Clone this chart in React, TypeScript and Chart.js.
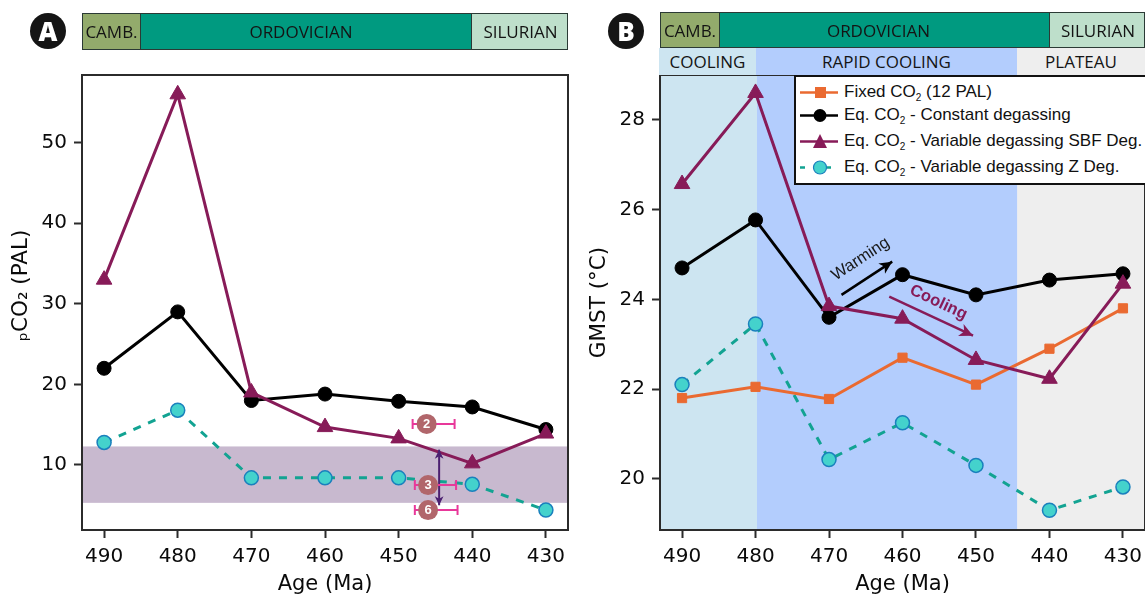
import React, { useEffect, useRef } from "react";
import { Chart, registerables } from "chart.js";

Chart.register(...registerables);

const ages = [490, 480, 470, 460, 450, 440, 430];

const co2Constant = [22, 29, 18, 18.8, 17.9, 17.2, 14.4];
const co2Sbf = [33, 56, 19, 14.7, 13.3, 10.2, 13.9];
const co2Z = [12.8, 16.8, 8.4, 8.4, 8.4, 7.6, 4.4];
const co2ShadeRange = [5.3, 12.3];
const proxyLabels = ["2", "3", "6"];
const proxyCenterAge = [446.2, 446, 446];
const proxyCo2 = [15.1, 7.5, 4.4];
const proxyAgeLow = [442.4, 442.2, 442];
const proxyAgeHigh = [448.1, 447.8, 447.8];
const rangeArrowAge = 444.5;
const rangeArrowCo2 = [11.9, 5.0];

const gmstFixed = [21.8, 22.05, 21.78, 22.7, 22.1, 22.9, 23.8];
const gmstConstant = [24.7, 25.77, 23.6, 24.55, 24.1, 24.43, 24.57];
const gmstSbf = [26.57, 28.6, 23.85, 23.57, 22.65, 22.23, 24.35];
const gmstZ = [22.1, 23.45, 20.43, 21.25, 20.3, 19.3, 19.82];
const bandEdges = [427, 444.4, 479.8, 493];
const bandColors = ["#eeeeee", "#b3cdfd", "#cde5f1"];
const warmingArrow = [468.3, 24.1, 461.4, 24.84];
const coolingArrow = [461.8, 24.06, 450.4, 23.19];
const warmingLabel = { text: "Warming", age: 465.7, gmst: 24.9 };
const coolingLabel = { text: "Cooling", age: 455.1, gmst: 23.93 };

const legendLabels = [
  ["Fixed CO", " (12 PAL)"],
  ["Eq. CO", " - Constant degassing"],
  ["Eq. CO", " - Variable degassing SBF Deg."],
  ["Eq. CO", " - Variable degassing Z Deg."],
];

const BLACK = "#000000";
const PURPLE = "#871b58";
const TEAL = "#12a392";
const CYAN = "#44d2cc";
const CYAN_EDGE = "#1a80bd";
const ORANGE = "#ea6a31";
const PINK = "#e8389a";
const ROSE = "#b1666b";
const DARKPURPLE = "#4b1f70";
const AXIS = "#2b2b2b";
const SANS = "'DejaVu Sans'";
const ARIAL = "'Liberation Sans'";
const HEAD = "'Open Sans'";

function series(values: number[], color: string, style: string, extra: any = {}) {
  return {
    data: ages.map((a, i) => ({ x: a, y: values[i] })),
    borderColor: color,
    backgroundColor: color,
    borderWidth: 3,
    pointStyle: style,
    pointRadius: style === "triangle" ? 9 : 7,
    pointBorderColor: color,
    pointBackgroundColor: color,
    pointBorderWidth: 1,
    tension: 0,
    clip: false,
    ...extra,
  };
}

function arrow(
  ctx: CanvasRenderingContext2D,
  x0: number,
  y0: number,
  x1: number,
  y1: number,
  color: string,
  width: number,
  head: number,
  both = false
) {
  const draw = (ax: number, ay: number, bx: number, by: number) => {
    const t = Math.atan2(by - ay, bx - ax);
    ctx.beginPath();
    ctx.moveTo(bx, by);
    ctx.lineTo(bx - head * Math.cos(t - 0.45), by - head * Math.sin(t - 0.45));
    ctx.lineTo(bx - head * 0.65 * Math.cos(t), by - head * 0.65 * Math.sin(t));
    ctx.lineTo(bx - head * Math.cos(t + 0.45), by - head * Math.sin(t + 0.45));
    ctx.closePath();
    ctx.fill();
  };
  ctx.save();
  ctx.strokeStyle = color;
  ctx.fillStyle = color;
  ctx.lineWidth = width;
  ctx.beginPath();
  ctx.moveTo(x0, y0);
  ctx.lineTo(x1, y1);
  ctx.stroke();
  draw(x0, y0, x1, y1);
  if (both) draw(x1, y1, x0, y0);
  ctx.restore();
}

const framePlugin = {
  id: "frame",
  afterDraw(chart: any) {
    const { ctx, chartArea: a } = chart;
    ctx.save();
    ctx.strokeStyle = AXIS;
    ctx.lineWidth = 2;
    ctx.strokeRect(a.left, a.top, a.right - a.left, a.bottom - a.top);
    ctx.restore();
  },
};

const shadePlugin = {
  id: "shade",
  beforeDatasetsDraw(chart: any) {
    const { ctx, chartArea: a, scales } = chart;
    const y0 = scales.y.getPixelForValue(co2ShadeRange[1]);
    const y1 = scales.y.getPixelForValue(co2ShadeRange[0]);
    ctx.save();
    ctx.fillStyle = "#c8b9cf";
    ctx.fillRect(a.left, y0, a.right - a.left, y1 - y0);
    ctx.restore();
  },
  afterDatasetsDraw(chart: any) {
    const { ctx, scales } = chart;
    const X = scales.x;
    const Y = scales.y;
    arrow(
      ctx,
      X.getPixelForValue(rangeArrowAge),
      Y.getPixelForValue(rangeArrowCo2[0]),
      X.getPixelForValue(rangeArrowAge),
      Y.getPixelForValue(rangeArrowCo2[1]),
      DARKPURPLE,
      2,
      10,
      true
    );
    proxyLabels.forEach((label, i) => {
      const y = Y.getPixelForValue(proxyCo2[i]);
      const xl = X.getPixelForValue(proxyAgeHigh[i]);
      const xr = X.getPixelForValue(proxyAgeLow[i]);
      const cx = X.getPixelForValue(proxyCenterAge[i]);
      ctx.save();
      ctx.strokeStyle = PINK;
      ctx.lineWidth = 2;
      ctx.beginPath();
      ctx.moveTo(xl, y);
      ctx.lineTo(xr, y);
      ctx.moveTo(xl, y - 5);
      ctx.lineTo(xl, y + 5);
      ctx.moveTo(xr, y - 5);
      ctx.lineTo(xr, y + 5);
      ctx.stroke();
      ctx.fillStyle = ROSE;
      ctx.beginPath();
      ctx.arc(cx, y, 10, 0, Math.PI * 2);
      ctx.fill();
      ctx.fillStyle = "#ffffff";
      ctx.font = `bold 13px ${ARIAL}`;
      ctx.textAlign = "center";
      ctx.textBaseline = "middle";
      ctx.fillText(label, cx, y + 0.5);
      ctx.restore();
    });
  },
};

const bandPlugin = {
  id: "bands",
  beforeDatasetsDraw(chart: any) {
    const { ctx, chartArea: a, scales } = chart;
    ctx.save();
    bandColors.forEach((c, i) => {
      const x0 = scales.x.getPixelForValue(bandEdges[i + 1]);
      const x1 = scales.x.getPixelForValue(bandEdges[i]);
      ctx.fillStyle = c;
      ctx.fillRect(x0, a.top, x1 - x0, a.bottom - a.top);
    });
    ctx.restore();
  },
  afterDatasetsDraw(chart: any) {
    const { ctx, scales } = chart;
    const X = scales.x;
    const Y = scales.y;
    arrow(
      ctx,
      X.getPixelForValue(warmingArrow[0]),
      Y.getPixelForValue(warmingArrow[1]),
      X.getPixelForValue(warmingArrow[2]),
      Y.getPixelForValue(warmingArrow[3]),
      BLACK,
      2.5,
      14
    );
    arrow(
      ctx,
      X.getPixelForValue(coolingArrow[0]),
      Y.getPixelForValue(coolingArrow[1]),
      X.getPixelForValue(coolingArrow[2]),
      Y.getPixelForValue(coolingArrow[3]),
      PURPLE,
      2.5,
      15
    );
    const put = (l: any, color: string, font: string, angle: number) => {
      ctx.save();
      ctx.translate(X.getPixelForValue(l.age), Y.getPixelForValue(l.gmst));
      ctx.rotate(angle);
      ctx.fillStyle = color;
      ctx.font = font;
      ctx.textAlign = "center";
      ctx.textBaseline = "middle";
      ctx.fillText(l.text, 0, 0);
      ctx.restore();
    };
    put(warmingLabel, "#1a1a1a", `16.5px ${ARIAL}`, -0.58);
    put(coolingLabel, PURPLE, `bold 16.5px ${ARIAL}`, 0.44);
  },
};

function axes(yMin: number, yMax: number, yStep: number, yTitle: string, leftWidth: number, titleTop: number) {
  const font = { family: SANS, size: 20, weight: "500" };
  return {
    x: {
      type: "linear",
      reverse: true,
      min: 427,
      max: 493,
      border: { color: AXIS, width: 2 },
      grid: { drawOnChartArea: false, drawTicks: true, tickLength: 8, color: AXIS, tickWidth: 2 },
      ticks: { stepSize: 10, includeBounds: false, color: "#0a0a0a", font, padding: 7, maxRotation: 0 },
      title: { display: true, text: "Age (Ma)", color: "#0a0a0a", font: { family: SANS, size: 21 }, padding: { top: 0, bottom: -3 } },
      afterFit(s: any) {
        s.height = 64;
        s.paddingLeft = 0;
        s.paddingRight = 0;
      },
    },
    y: {
      type: "linear",
      min: yMin,
      max: yMax,
      border: { color: AXIS, width: 2 },
      grid: { drawOnChartArea: false, drawTicks: true, tickLength: 8, color: AXIS, tickWidth: 2 },
      ticks: { stepSize: yStep, includeBounds: false, color: "#0a0a0a", font, padding: 7 },
      title: { display: true, text: yTitle, color: "#0a0a0a", font: { family: SANS, size: 21.5 }, padding: { top: titleTop, bottom: 0 } },
      afterFit(s: any) {
        s.width = leftWidth;
      },
    },
  };
}

function useChart(ref: React.RefObject<HTMLCanvasElement | null>, make: () => any) {
  useEffect(() => {
    const chart = new Chart(ref.current as HTMLCanvasElement, make());
    return () => chart.destroy();
  }, []);
}

const Head = ({ x, w, y, h, bg, label, dx = 0, border = true }: any) => (
  <div
    style={{
      position: "absolute",
      left: x,
      width: w,
      top: y,
      height: h,
      background: bg,
      boxSizing: "border-box",
      display: "flex",
      alignItems: "center",
      justifyContent: "center",
      fontFamily: HEAD,
      fontSize: 17,
      color: "#141414",
      whiteSpace: "nowrap",
      overflow: "hidden",
      border: border ? "1.5px solid #2b3a35" : "none",
    }}
  >
    <span style={{ position: "relative", left: dx }}>{label}</span>
  </div>
);

const Badge = ({ x, label }: any) => (
  <div
    style={{
      position: "absolute",
      left: x - 18,
      top: 13,
      width: 36,
      height: 36,
      borderRadius: 18,
      background: "#151515",
      color: "#fff",
      display: "flex",
      alignItems: "center",
      justifyContent: "center",
      fontFamily: HEAD,
      fontWeight: 800,
      fontSize: 26,
    }}
  >
    {label}
  </div>
);

const swatches = [
  { color: ORANGE, dash: "", mark: <rect x="19" y="4" width="11" height="11" fill={ORANGE} /> },
  { color: BLACK, dash: "", mark: <circle cx="24" cy="9.5" r="6.5" fill={BLACK} /> },
  { color: PURPLE, dash: "", mark: <polygon points="24,2 31,16 17,16" fill={PURPLE} /> },
  {
    color: TEAL,
    dash: "5 8",
    mark: <circle cx="24" cy="9.5" r="6.5" fill={CYAN} stroke={CYAN_EDGE} strokeWidth="1.2" />,
  },
];

const legendRowTop = [5, 28, 54, 80];

export default function App() {
  const a = useRef<HTMLCanvasElement>(null);
  const b = useRef<HTMLCanvasElement>(null);

  useChart(a, () => ({
    type: "line",
    plugins: [shadePlugin, framePlugin],
    data: {
      datasets: [
        series(co2Sbf, PURPLE, "triangle"),
        series(co2Constant, BLACK, "circle"),
        series(co2Z, TEAL, "circle", {
          borderDash: [8, 8],
          pointBackgroundColor: CYAN,
          pointBorderColor: CYAN_EDGE,
          pointBorderWidth: 1.5,
        }),
      ],
    },
    options: {
      responsive: false,
      animation: false,
      layout: { autoPadding: false, padding: { top: 75, right: 4, left: 0, bottom: 0 } },
      plugins: { legend: { display: false }, tooltip: { enabled: false } },
      scales: axes(1.93, 58.4, 10, "\u00a0\u00a0\u00a0\u00a0\u00a0ₚCO₂ (PAL)", 82, 9),
    },
  }));

  useChart(b, () => ({
    type: "line",
    plugins: [bandPlugin, framePlugin],
    data: {
      datasets: [
        series(gmstSbf, PURPLE, "triangle"),
        series(gmstConstant, BLACK, "circle"),
        series(gmstFixed, ORANGE, "rect", { pointRadius: 6.5 }),
        series(gmstZ, TEAL, "circle", {
          borderDash: [8, 8],
          pointBackgroundColor: CYAN,
          pointBorderColor: CYAN_EDGE,
          pointBorderWidth: 1.5,
        }),
      ],
    },
    options: {
      responsive: false,
      animation: false,
      layout: { autoPadding: false, padding: { top: 75, right: 0, left: 0, bottom: 0 } },
      plugins: { legend: { display: false }, tooltip: { enabled: false } },
      scales: axes(18.86, 29.0, 2, "GMST (°C)", 88, 15),
    },
  }));

  return (
    <div style={{ position: "fixed", left: 0, top: 0, width: 1145, height: 594, overflow: "hidden", background: "#fff" }}>
      <canvas ref={a} width={572} height={594} style={{ position: "absolute", left: 0, top: 0 }} />
      <canvas ref={b} width={573} height={594} style={{ position: "absolute", left: 572, top: 0 }} />

      <Badge x={48} label="A" />
      <Head x={82} w={59} y={13} h={37} bg="#93ab6c" label="CAMB." />
      <Head x={140} w={332} y={13} h={37} bg="#009a80" label="ORDOVICIAN" dx={-5} />
      <Head x={471} w={97} y={13} h={37} bg="#bedfcb" label="SILURIAN" dx={1} />

      <Badge x={626} label="B" />
      <Head x={660} w={60} y={12} h={36} bg="#93ab6c" label="CAMB." />
      <Head x={719} w={331} y={12} h={36} bg="#009a80" label="ORDOVICIAN" dx={-6} />
      <Head x={1049} w={96} y={12} h={36} bg="#bedfcb" label="SILURIAN" dx={1} />
      <Head x={659} w={97} y={48} h={27} bg={bandColors[2]} label="COOLING" border={false} />
      <Head x={756} w={261} y={48} h={27} bg={bandColors[1]} label="RAPID COOLING" border={false} />
      <Head x={1017} w={128} y={48} h={27} bg={bandColors[0]} label="PLATEAU" border={false} />

      <div
        style={{
          position: "absolute",
          left: 794,
          top: 75,
          width: 360,
          height: 110,
          background: "#fff",
          border: "2px solid #111",
          boxSizing: "border-box",
        }}
      >
        {legendLabels.map((l, i) => (
          <div key={i} style={{ position: "absolute", left: 0, top: legendRowTop[i], height: 20, whiteSpace: "nowrap" }}>
            <svg width="46" height="19" style={{ position: "absolute", left: 0, top: 1 }}>
              <line x1="4" x2="42" y1="9.5" y2="9.5" stroke={swatches[i].color} strokeWidth="2.5" strokeDasharray={swatches[i].dash} />
              {swatches[i].mark}
            </svg>
            <span style={{ position: "absolute", left: 48, top: 0, fontFamily: ARIAL, fontSize: 17, color: "#111", lineHeight: "20px" }}>
              {l[0]}
              <sub style={{ fontSize: 10, lineHeight: 0 }}>2</sub>
              {l[1]}
            </span>
          </div>
        ))}
      </div>
    </div>
  );
}
